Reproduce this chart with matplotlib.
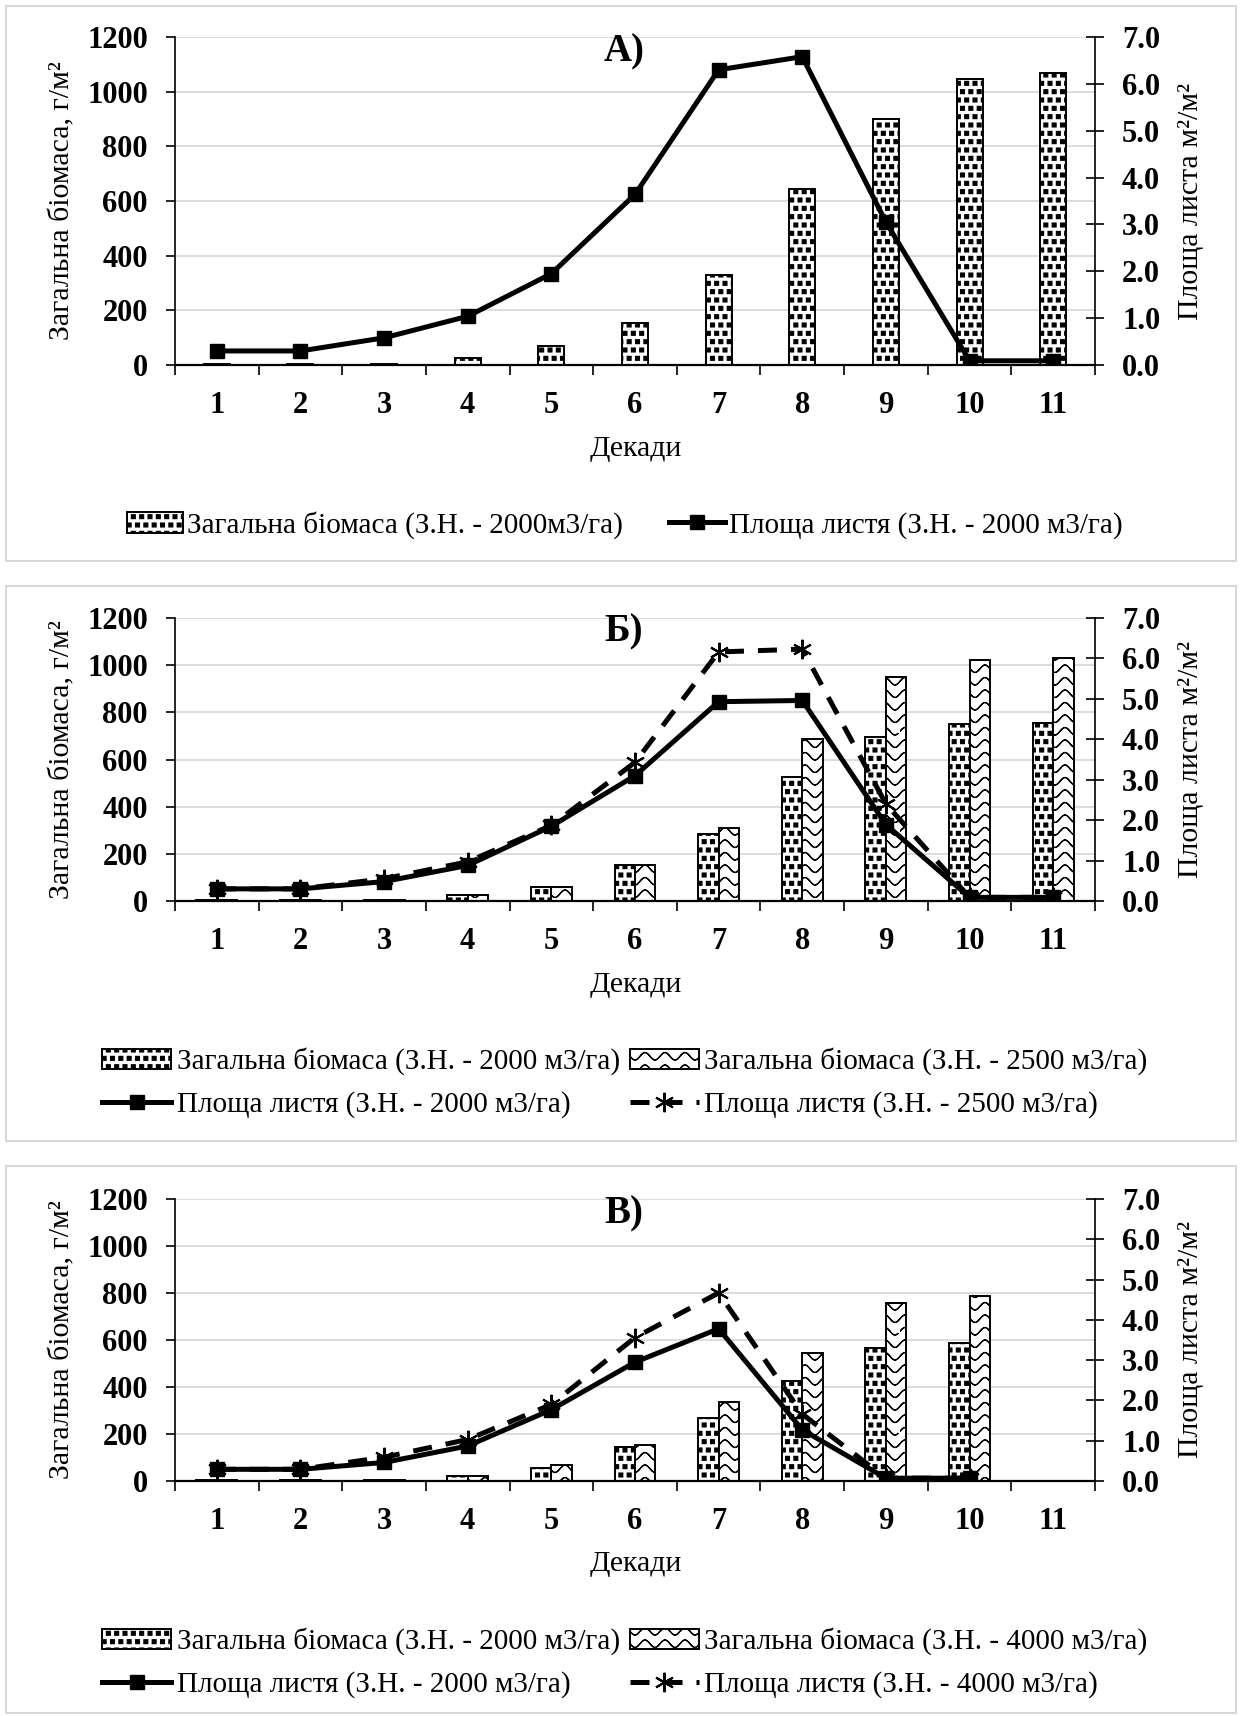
import warnings
warnings.filterwarnings("ignore")
import numpy as np
import matplotlib
matplotlib.use("Agg")
import matplotlib.pyplot as plt
import matplotlib.hatch as mhatch
from matplotlib.path import Path
from matplotlib.patches import Rectangle

# ---------------- data ----------------
decades = [1, 2, 3, 4, 5, 6, 7, 8, 9, 10, 11]
tick_labels = ["1", "2", "3", "4", "5", "6", "7", "8", "9", "10", "11"]

A_bio_2000 = [3, 3, 3, 27, 70, 155, 331, 644, 900, 1045, 1067]
A_leaf_2000 = [0.30, 0.30, 0.58, 1.04, 1.95, 3.64, 6.30, 6.58, 3.05, 0.09, 0.09]

B_bio_2000 = [3, 3, 3, 24, 60, 151, 284, 525, 694, 752, 755]
B_bio_2500 = [3, 3, 3, 24, 60, 151, 311, 685, 951, 1023, 1029]
B_leaf_2000 = [0.30, 0.30, 0.48, 0.88, 1.85, 3.10, 4.93, 4.96, 1.89, 0.09, 0.09]
B_leaf_2500 = [0.30, 0.30, 0.55, 0.97, 1.87, 3.43, 6.16, 6.23, 2.40, 0.09, 0.09]

C_bio_2000 = [3, 3, 3, 20, 57, 143, 269, 426, 568, 587, np.nan]
C_bio_4000 = [3, 3, 3, 22, 69, 154, 336, 543, 759, 788, np.nan]
C_leaf_2000 = [0.29, 0.29, 0.46, 0.87, 1.77, 2.95, 3.78, 1.27, 0.07, 0.07, np.nan]
C_leaf_4000 = [0.29, 0.29, 0.59, 1.03, 1.90, 3.56, 4.67, 1.66, 0.07, 0.07, np.nan]

left_label = "Загальна біомаса, г/м²"
right_label = "Площа листа м²/м²"
x_label = "Декади"


# ---------------- custom hatches ----------------
class SquareConfetti(mhatch.Shapes):
    filled = True
    size = 0.23

    def __init__(self, hatch, density):
        self.num_rows = hatch.count(':') * density
        self.shape_vertices = np.array([[-1, -1], [1, -1], [1, 1], [-1, 1], [-1, -1]], float)
        self.shape_codes = np.array([Path.MOVETO, Path.LINETO, Path.LINETO,
                                     Path.LINETO, Path.CLOSEPOLY], dtype=Path.code_type)
        super().__init__(hatch, density)


class WaveHatch(mhatch.HatchPatternBase):
    npts = 81

    def __init__(self, hatch, density):
        self.num_lines = (hatch.count('~') * density * 4) // 3
        self.num_vertices = self.num_lines * 2 * self.npts

    def set_vertices_and_codes(self, vertices, codes):
        n = self.num_lines
        x = np.linspace(0, 1, self.npts)
        k = 5
        idx = 0
        for i in range(n):
            y = (i + 0.5) / n + (0.3 / n) * np.sin(2 * np.pi * k * x)
            pts = np.column_stack([x, y])
            pts = np.vstack([pts, pts[::-1]])
            m = len(pts)
            vertices[idx:idx + m] = pts
            codes[idx:idx + m] = Path.LINETO
            codes[idx] = Path.MOVETO
            idx += m


mhatch._hatch_types.append(SquareConfetti)
mhatch._hatch_types.append(WaveHatch)

# ---------------- style ----------------
plt.rcParams['font.family'] = ['Liberation Serif', 'DejaVu Serif']
plt.rcParams['hatch.linewidth'] = 0.9
plt.rcParams['hatch.color'] = 'black'

W, H = 1245, 1716
fig = plt.figure(figsize=(W / 100, H / 100), dpi=100)

GRID = '#d9d9d9'
TICKFS = 22
LABFS = 21.5


def fx(px):
    return px / W


def fy(py):
    return 1 - py / H


def box(top, bottom):
    r = Rectangle((fx(6), fy(bottom)), fx(1236) - fx(6), fy(top) - fy(bottom),
                  transform=fig.transFigure, fill=False, edgecolor=GRID, lw=1.5)
    fig.patches.append(r)


def make_axes(top, bottom):
    left, right = 175, 1095
    ax = fig.add_axes([fx(left), fy(bottom), fx(right) - fx(left), fy(top) - fy(bottom)])
    ax.set_xlim(0.5, 11.5)
    ax.set_ylim(0, 1200)
    ax.set_yticks(np.arange(0, 1201, 200))
    ax.set_axisbelow(True)
    ax.yaxis.grid(True, color=GRID, lw=1.3)
    ax.set_xticks(np.arange(0.5, 11.6, 1.0))
    ax.set_xticklabels([])
    ax.set_xticks(decades, minor=True)
    ax.set_xticklabels(tick_labels, minor=True, fontsize=TICKFS, fontweight='bold')
    ax.tick_params(axis='x', which='major', direction='out', length=7, width=1.2)
    ax.tick_params(axis='x', which='minor', length=0, pad=19)
    ax.tick_params(axis='y', direction='out', length=6.5, width=1.2, pad=13, labelsize=TICKFS)
    for t in ax.get_yticklabels():
        t.set_fontweight('bold')
    for s in ['top', 'right']:
        ax.spines[s].set_visible(False)
    ax.spines['left'].set_linewidth(1.2)
    ax.spines['bottom'].set_linewidth(1.6)
    ax.set_ylabel(left_label, fontsize=LABFS)
    ax.yaxis.set_label_coords(-0.108, 0.5)

    ax2 = ax.twinx()
    ax2.set_ylim(0, 7)
    ax2.set_yticks(np.arange(0, 7.01, 1.0))
    ax2.set_yticklabels([f"{v:.1f}" for v in np.arange(0, 7.01, 1.0)],
                        fontsize=TICKFS, fontweight='bold')
    ax2.tick_params(axis='y', direction='inout', length=13, width=1.2, pad=13)
    for s in ['top', 'left', 'bottom']:
        ax2.spines[s].set_visible(False)
    ax2.spines['right'].set_linewidth(1.2)
    ax2.set_ylabel(right_label, fontsize=LABFS)
    ax2.yaxis.set_label_coords(1.09, 0.5)
    return ax, ax2


x = np.array(decades, float)
solid_kw = dict(color='black', lw=3.6, marker='s', markersize=10, zorder=5)
dash_kw = dict(color='black', lw=3.6, dashes=(3.8, 2.8), marker=(6, 2, 0), markersize=14,
               markeredgewidth=1.5, zorder=6)
bar_kw = dict(color='white', edgecolor='black', linewidth=1.4)

# ---------------- panel A ----------------
box(6, 561)
axA, axA2 = make_axes(37, 365)
bA = axA.bar(x, A_bio_2000, width=0.31, hatch='::', **bar_kw)
lA, = axA2.plot(x, A_leaf_2000, **solid_kw)
axA.text(0.488, 0.953, "А)", transform=axA.transAxes, ha='center', va='center',
         fontsize=28, fontweight='bold')
fig.text(fx(636), fy(449), x_label, ha='center', va='center', fontsize=LABFS)
fig.legend([bA, lA], ["Загальна біомаса (З.Н. - 2000м3/га)", "Площа листя (З.Н. - 2000 м3/га)"],
           loc='center', bbox_to_anchor=(fx(625), fy(525)), ncol=2, frameon=False,
           fontsize=21, handlelength=1.9, handletextpad=0.15, columnspacing=1.6)

# ---------------- panel Б ----------------
box(586, 1141)
axB, axB2 = make_axes(618, 901)
w = 0.245
bB1 = axB.bar(x - w / 2, B_bio_2000, width=w, hatch='::', **bar_kw)
bB2 = axB.bar(x + w / 2, B_bio_2500, width=w, hatch='~', **bar_kw)
lB1, = axB2.plot(x, B_leaf_2000, **solid_kw)
lB2, = axB2.plot(x, B_leaf_2500, **dash_kw)
axB.text(0.488, 0.95, "Б)", transform=axB.transAxes, ha='center', va='center',
         fontsize=28, fontweight='bold')
fig.text(fx(636), fy(985), x_label, ha='center', va='center', fontsize=LABFS)
fig.legend([bB1, lB1, bB2, lB2],
           ["Загальна біомаса (З.Н. - 2000 м3/га)", "Площа листя (З.Н. - 2000 м3/га)",
            "Загальна біомаса (З.Н. - 2500 м3/га)", "Площа листя (З.Н. - 2500 м3/га)"],
           loc='center', bbox_to_anchor=(fx(625), fy(1083)), ncol=2, frameon=False,
           fontsize=21, handlelength=2.35, handletextpad=0.2, columnspacing=0.35,
           labelspacing=0.55)

# ---------------- panel В ----------------
box(1166, 1713)
axC, axC2 = make_axes(1199, 1481)
bC1 = axC.bar(x - w / 2, C_bio_2000, width=w, hatch='::', **bar_kw)
bC2 = axC.bar(x + w / 2, C_bio_4000, width=w, hatch='~', **bar_kw)
lC1, = axC2.plot(x, C_leaf_2000, **solid_kw)
lC2, = axC2.plot(x, C_leaf_4000, **dash_kw)
axC.text(0.488, 0.947, "В)", transform=axC.transAxes, ha='center', va='center',
         fontsize=28, fontweight='bold')
fig.text(fx(636), fy(1564), x_label, ha='center', va='center', fontsize=LABFS)
fig.legend([bC1, lC1, bC2, lC2],
           ["Загальна біомаса (З.Н. - 2000 м3/га)", "Площа листя (З.Н. - 2000 м3/га)",
            "Загальна біомаса (З.Н. - 4000 м3/га)", "Площа листя (З.Н. - 4000 м3/га)"],
           loc='center', bbox_to_anchor=(fx(625), fy(1663)), ncol=2, frameon=False,
           fontsize=21, handlelength=2.35, handletextpad=0.2, columnspacing=0.35,
           labelspacing=0.55)

fig.savefig("out.png", dpi=100, facecolor='white')
